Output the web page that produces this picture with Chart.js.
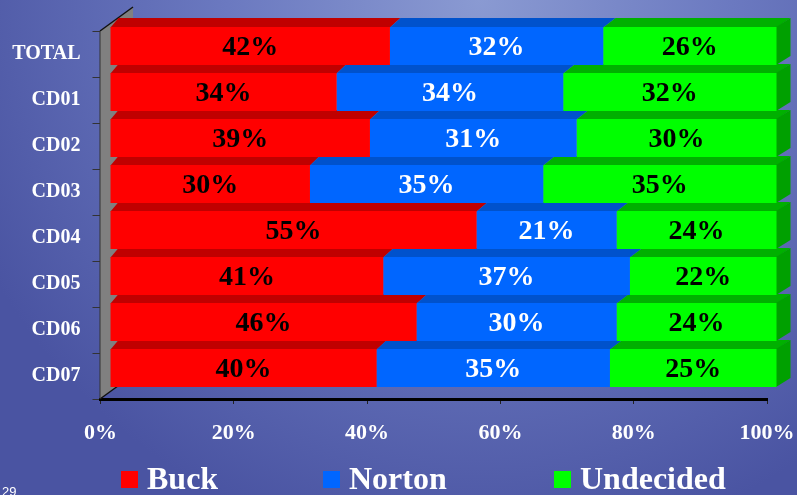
<!DOCTYPE html>
<html>
<head>
<meta charset="utf-8">
<script src="https://cdn.jsdelivr.net/npm/chart.js@4.4.1/dist/chart.umd.min.js"></script>
<style>
  html, body { margin: 0; padding: 0; background: #5560a8; }
  #wrap { position: absolute; left: 0; top: 0; width: 797px; height: 495px; }
</style>
</head>
<body>
<div id="wrap"><canvas id="c" width="797" height="495"></canvas></div>
<script>
const categories = ['TOTAL', 'CD01', 'CD02', 'CD03', 'CD04', 'CD05', 'CD06', 'CD07'];
const buck      = [42, 34, 39, 30, 55, 41, 46, 40];
const norton    = [32, 34, 31, 35, 21, 37, 30, 35];
const undecided = [26, 32, 30, 35, 24, 22, 24, 25];
const seriesNames = ['Buck', 'Norton', 'Undecided'];
const xTickValues = [0, 20, 40, 60, 80, 100];
const pageNumber = '29';

const frontColors = ['#ff0000', '#0066ff', '#00ff00'];
const topColors   = ['#c00000', '#0052cc', '#00b000'];
const sideColor   = '#00a000';
const labelColors = ['#000000', '#ffffff', '#000000'];

const SHIFT_X = 9.5, SHIFT_Y = -8;   // front plane offset from axis plane
const DEPTH_Y = 9;
function depthX(x, area) { return 8 + 6 * (x - area.left) / (area.right - area.left); }

const threeD = {
  id: 'threeD',
  beforeDraw(chart) {
    const ctx = chart.ctx;
    const g = ctx.createRadialGradient(480, 0, 0, 480, 0, 560);
    g.addColorStop(0, '#8a9ad2');
    g.addColorStop(0.45, '#6b79c0');
    g.addColorStop(1, '#4a54a2');
    ctx.save();
    ctx.fillStyle = g;
    ctx.fillRect(0, 0, chart.width, chart.height);
    ctx.restore();
  },
  beforeDatasetsDraw(chart) {
    const ctx = chart.ctx, a = chart.chartArea;
    ctx.save();
    const L = a.left - 0.5, T = a.top, B = a.bottom;
    ctx.fillStyle = '#808080';
    ctx.beginPath();
    ctx.moveTo(L, T); ctx.lineTo(L + 33, T - 24); ctx.lineTo(L + 33, B - 24); ctx.lineTo(L, B);
    ctx.closePath(); ctx.fill();
    ctx.strokeStyle = '#111'; ctx.lineWidth = 1.5;
    ctx.beginPath(); ctx.moveTo(L, T); ctx.lineTo(L + 33, T - 24); ctx.stroke();
    ctx.beginPath(); ctx.moveTo(L, B); ctx.lineTo(L + 33, B - 24); ctx.stroke();
    ctx.strokeStyle = '#333'; ctx.lineWidth = 1;
    ctx.beginPath(); ctx.moveTo(L, T); ctx.lineTo(L, B); ctx.stroke();

    ctx.translate(SHIFT_X, SHIFT_Y);
    const nData = chart.data.datasets.length;
    chart.data.datasets.forEach((ds, di) => {
      const meta = chart.getDatasetMeta(di);
      meta.data.forEach((el) => {
        const x0 = Math.min(el.base, el.x), x1 = Math.max(el.base, el.x);
        const top = el.y - el.height / 2, bot = el.y + el.height / 2;
        const d0 = depthX(x0, a), d1 = depthX(x1, a);
        ctx.fillStyle = topColors[di];
        ctx.beginPath();
        ctx.moveTo(x0, top + 0.5); ctx.lineTo(x0 + d0, top - DEPTH_Y);
        ctx.lineTo(x1 + d1, top - DEPTH_Y); ctx.lineTo(x1, top + 0.5);
        ctx.closePath(); ctx.fill();
        if (di === nData - 1) {
          ctx.fillStyle = sideColor;
          ctx.beginPath();
          ctx.moveTo(x1 - 0.5, top); ctx.lineTo(x1 + d1, top - DEPTH_Y);
          ctx.lineTo(x1 + d1, bot - DEPTH_Y); ctx.lineTo(x1 - 0.5, bot);
          ctx.closePath(); ctx.fill();
        }
      });
    });
  },
  afterDatasetsDraw(chart) {
    const ctx = chart.ctx;
    ctx.font = 'bold 28px "Liberation Serif"';
    ctx.textAlign = 'center';
    ctx.textBaseline = 'middle';
    chart.data.datasets.forEach((ds, di) => {
      const meta = chart.getDatasetMeta(di);
      meta.data.forEach((el, i) => {
        ctx.fillStyle = labelColors[di];
        ctx.fillText(ds.data[i] + '%', (el.base + el.x) / 2, el.y + 2);
      });
    });
    ctx.restore();
  },
  afterDraw(chart) {
    const ctx = chart.ctx;
    ctx.save();
    const itemX = [121, 323, 554];
    ctx.font = 'bold 32px "Liberation Serif"';
    ctx.textBaseline = 'alphabetic';
    ctx.textAlign = 'left';
    chart.data.datasets.forEach((ds, di) => {
      ctx.fillStyle = ds.backgroundColor;
      ctx.fillRect(itemX[di], 471, 17, 17);
      ctx.fillStyle = '#ffffff';
      ctx.fillText(ds.label, itemX[di] + 26, 489);
    });
    ctx.font = '13px "Liberation Sans"';
    ctx.fillStyle = '#ffffff';
    ctx.fillText(pageNumber, 2, 496);
    ctx.restore();
  }
};

const ctx = document.getElementById('c').getContext('2d');
new Chart(ctx, {
  type: 'bar',
  data: {
    labels: categories,
    datasets: [
      { label: seriesNames[0], data: buck, backgroundColor: frontColors[0] },
      { label: seriesNames[1], data: norton, backgroundColor: frontColors[1] },
      { label: seriesNames[2], data: undecided, backgroundColor: frontColors[2] }
    ].map(d => Object.assign(d, { borderWidth: 0, categoryPercentage: 1, barPercentage: 0.826, clip: false }))
  },
  options: {
    indexAxis: 'y',
    responsive: false,
    devicePixelRatio: 1,
    animation: false,
    layout: { padding: { left: 0, right: 30, top: 31, bottom: 0 } },
    plugins: { legend: { display: false }, tooltip: { enabled: false } },
    scales: {
      x: {
        stacked: true, min: 0, max: 100,
        afterBuildTicks: (s) => { s.ticks = xTickValues.map(v => ({ value: v })); },
        afterFit: (s) => { s.height = 96; s.paddingLeft = 0; s.paddingRight = 0; },
        ticks: {
          color: '#ffffff', padding: 16, maxRotation: 0,
          font: { family: 'Liberation Serif', weight: 'bold', size: 22 },
          callback: (v) => v + '%'
        },
        grid: { drawOnChartArea: false, tickLength: 5, color: '#222' },
        border: { display: true, color: '#000', width: 3 }
      },
      y: {
        stacked: true,
        afterFit: (s) => { s.width = 100.5; s.paddingTop = 0; s.paddingBottom = 0; },
        ticks: {
          color: '#ffffff', padding: 12,
          font: { family: 'Liberation Serif', weight: 'bold', size: 20 }
        },
        grid: { drawOnChartArea: false, tickLength: 8, color: '#333', offset: true },
        border: { display: false }
      }
    }
  },
  plugins: [threeD]
});
</script>
</body>
</html>
